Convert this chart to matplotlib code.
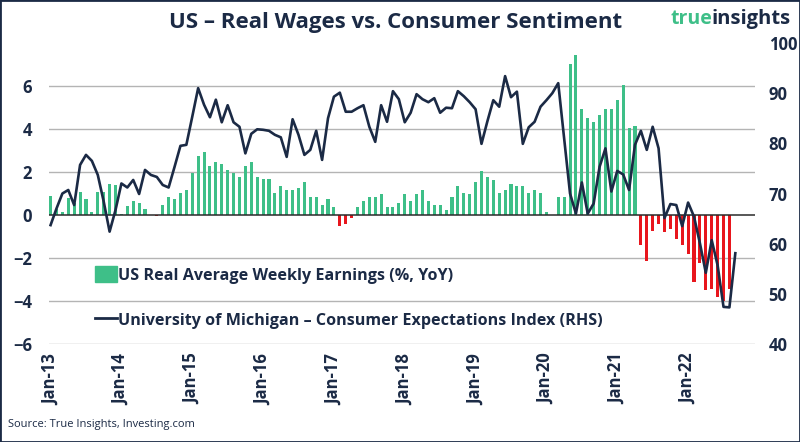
import numpy as np
import matplotlib.pyplot as plt
from matplotlib.patches import Patch, Rectangle
from matplotlib.lines import Line2D

# Monthly data, Jan-13 onwards
earnings = [0.88, 0.3, 0.16, 0.77, 0.55, 1.05, 0.76, 0.16, 1.05, 1.05, 1.46, 1.38,
            0.05, 0.40, 0.65, 0.57, 0.26, 0.0, -0.05, 0.45, 0.85, 0.76, 1.04, 1.16,
            1.97, 2.74, 2.95, 2.28, 2.47, 2.36, 2.08, 1.97, 1.77, 2.28, 2.47, 1.77,
            1.66, 1.66, 1.04, 1.35, 1.15, 1.15, 1.24, 1.55, 0.84, 0.84, 0.45, 0.76,
            0.37, -0.51, -0.43, -0.12, 0.37, 0.65, 0.85, 0.85, 0.96, 0.37, 0.37, 0.57,
            0.96, 0.65, 0.96, 1.16, 0.65, 0.45, 0.45, 0.23, 0.85, 1.35, 1.04, 0.96,
            1.55, 2.05, 1.77, 1.64, 1.04, 1.16, 1.46, 1.35, 1.35, 1.04, 1.16, 1.04,
            0.16, 0.0, 0.85, 0.85, 7.04, 7.43, 4.95, 4.53, 4.34, 4.64, 4.95, 4.95,
            5.33, 6.05, 4.06, 4.14, -1.41, -2.14, -0.74, -0.43, -0.80, -0.64, -1.12, -1.41,
            -1.82, -3.12, -2.22, -3.5, -3.45, -3.8, -4.0, -3.45]

expectations = [63.7, 67.0, 70.0, 70.7, 67.7, 75.7, 77.7, 76.5, 73.7, 68.4, 62.4, 66.7,
                72.0, 71.2, 72.7, 69.9, 74.7, 73.7, 73.3, 71.7, 71.2, 75.3, 79.5, 79.7,
                85.3, 91.0, 87.7, 85.2, 88.7, 84.2, 87.6, 84.2, 83.3, 78.0, 81.9, 82.8,
                82.7, 82.5, 81.7, 81.2, 77.3, 84.8, 81.7, 77.7, 78.7, 82.5, 76.7, 85.0,
                89.3, 90.1, 86.3, 86.3, 87.0, 87.6, 83.3, 80.3, 87.6, 84.3, 90.4, 88.8,
                84.2, 86.1, 89.8, 88.8, 88.2, 89.0, 86.1, 87.1, 87.0, 90.4, 89.4, 88.2,
                86.8, 79.9, 84.4, 88.6, 87.3, 93.4, 89.2, 90.3, 79.9, 83.2, 84.3, 87.3,
                88.6, 90.0, 92.0, 81.0, 70.0, 66.0, 72.2, 66.0, 68.0, 75.3, 79.0, 70.4,
                74.5, 73.8, 70.7, 79.7, 82.5, 78.7, 83.3, 79.0, 65.1, 67.9, 67.7, 63.5,
                68.2, 65.4, 60.1, 54.2, 60.7, 55.7, 47.4, 47.3, 58.1]

year_labels = ["Jan-13", "Jan-14", "Jan-15", "Jan-16", "Jan-17",
               "Jan-18", "Jan-19", "Jan-20", "Jan-21", "Jan-22"]

navy = "#1b2a45"
green = "#3ebf88"
red = "#e8161d"

plt.rcParams["font.family"] = ["Open Sans", "DejaVu Sans"]
plt.rcParams["font.weight"] = "bold"

fig = plt.figure(figsize=(8, 4.42), dpi=100)
ax = fig.add_axes([0.061, 0.2217, 0.8825, 0.681])
ax2 = ax.twinx()

x_bar = np.arange(len(earnings))
x_line = np.arange(len(expectations))
bar_colors = [green if v >= 0 else red for v in earnings]

ax.set_ylim(-6, 8)
ax.set_yticks([-6, -4, -2, 0, 2, 4, 6])
for v in [-6, -4, -2, 2, 4, 6]:
    ax.axhline(v, color="#b4b4b4", lw=1.0, zorder=0)
ax.bar(x_bar, earnings, width=0.52, color=bar_colors, zorder=2)
ax.axhline(0, color="#2a2a2a", lw=1.1, zorder=3)

ax2.plot(x_line, expectations, color=navy, lw=1.9, zorder=4)
ax2.set_ylim(40, 100)
ax2.set_yticks([40, 50, 60, 70, 80, 90, 100])

ax.set_xlim(-0.3, 119.3)
ax.set_xticks(np.arange(0, 12 * len(year_labels), 12))
ax.set_xticklabels(year_labels, rotation=90)

for a in (ax, ax2):
    for s in a.spines.values():
        s.set_visible(False)
    a.tick_params(length=0, colors=navy, labelsize=12)
ax.tick_params(axis="y", pad=12)
ax.tick_params(axis="x", pad=7)
ax2.tick_params(axis="y", pad=10)
ax2.patch.set_visible(False)

handles = [Patch(color=green),
           Line2D([0], [0], color=navy, lw=2.0)]
labels = ["US Real Average Weekly Earnings (%, YoY)",
          "University of Michigan \u2013 Consumer Expectations Index (RHS)"]
fig.legend(handles, labels, loc="upper left", bbox_to_anchor=(0.1, 0.43),
           frameon=False, handlelength=1.4, handleheight=1.1, handletextpad=0.05,
           labelspacing=1.75, prop={"weight": "bold", "size": 11.6}, labelcolor=navy)

fig.text(0.495, 0.95, "US \u2013 Real Wages vs. Consumer Sentiment", ha="center", va="center",
         fontsize=16, fontweight="bold", color=navy)
fig.text(0.838, 0.957, "true", ha="left", va="center", fontsize=14, fontweight="bold", color=green)
fig.text(0.889, 0.957, "insights", ha="left", va="center", fontsize=14.5, fontweight="bold", color=navy)
fig.text(0.01, 0.04, "Source: True Insights, Investing.com", ha="left", va="center",
         fontsize=8, fontweight="normal", color=navy,
         family=["Liberation Sans Narrow", "Open Sans"])

fig.patches.append(Rectangle((0, 0), 1, 1, transform=fig.transFigure, fill=False,
                             edgecolor=navy, lw=2))

fig.savefig("out.png", dpi=100)
